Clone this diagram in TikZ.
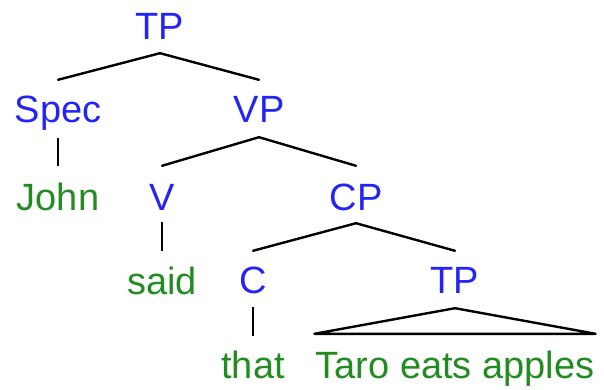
\documentclass[tikz,border=0pt]{standalone}
\usepackage{fontspec}
\setmainfont{Liberation Sans}
\usetikzlibrary{calc}
\definecolor{catblue}{RGB}{36,36,246}
\definecolor{wordgreen}{RGB}{34,140,34}
\tikzset{
  lbl/.style={anchor=base, inner sep=0pt, text height=28pt, text depth=8pt,
    font=\fontsize{38}{40}\selectfont},
  cat/.style={lbl, text=catblue},
  word/.style={lbl, text=wordgreen},
  branch/.style={line width=2.4pt, line cap=round, line join=round},
  stem/.style={line width=1.6pt},
}
\begin{document}
\begin{tikzpicture}[x=1pt, y=-1pt]
\useasboundingbox (0,0) rectangle (604,390);

% labels
\node[cat]  (tp)   at (160,40)  {TP};
\node[cat]  (spec) at (58,123)  {Spec};
\node[cat]  (vp)   at (259,123) {VP};
\node[word] (john) at (58,210)  {John};
\node[cat]  (v)    at (162,210) {V};
\node[cat]  (cp)   at (356,210) {CP};
\node[word] (said) at (162,294) {said};
\node[cat]  (c)    at (253,293) {C};
\node[cat]  (tp2)  at (455,293) {TP};
\node[word] (that) at (253,378) {that};
\node[word] (taro) at (455,378) {Taro eats apples};

% branches
\draw[branch] ([yshift=15pt]spec.north) -- ([yshift=-5pt]tp.south) -- ([yshift=15pt]vp.north);
\draw[branch] ([yshift=16pt]v.north) -- ([yshift=-6pt]vp.south) -- ([yshift=16pt]cp.north);
\draw[branch] ([yshift=14pt]c.north) -- ([yshift=-5pt]cp.south) -- ([yshift=14pt]tp2.north);
\draw[stem] ([yshift=-7pt]spec.south) -- ([yshift=16pt]john.north);
\draw[stem] ([yshift=-4pt]v.south) -- ([yshift=15pt]said.north);
\draw[stem] ([yshift=-6pt]c.south) -- ([yshift=14pt]that.north);

% triangle over the unanalysed TP
\coordinate (tl) at ($(taro.north west)+(-1pt,16pt)$);
\coordinate (tr) at ($(taro.north east)+(1pt,16pt)$);
\draw[branch] ([yshift=-7pt]tp2.south) -- (tr) -- (tl) -- cycle;
\end{tikzpicture}
\end{document}
